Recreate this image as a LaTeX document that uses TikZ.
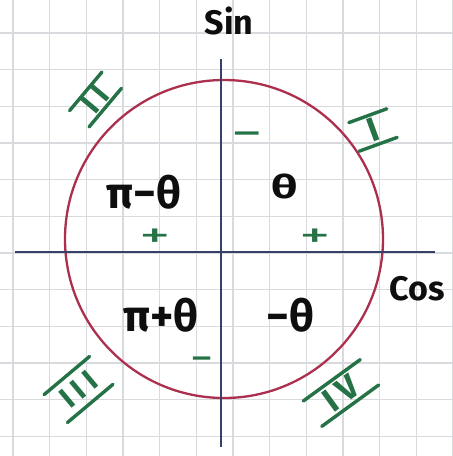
\documentclass[tikz,border=0pt]{standalone}
\usepackage{fontspec}
\setmainfont{Fira Sans}
\definecolor{gridc}{RGB}{216,218,222}
\definecolor{axisc}{RGB}{55,64,104}
\definecolor{circc}{RGB}{172,48,78}
\definecolor{numc}{RGB}{36,114,70}
\definecolor{inkc}{RGB}{14,14,14}
\tikzset{
  lbl/.style={text=inkc, font=\bfseries\fontsize{44}{44}\selectfont, inner sep=0pt},
  axislbl/.style={text=inkc, font=\bfseries\fontsize{34}{34}\selectfont, inner sep=0pt},
  sgn/.style={text=numc, font=\fontsize{42}{42}\selectfont, inner sep=0pt},
  numeral/.style={text=numc, font=\bfseries\fontsize{30}{30}\selectfont, inner sep=0pt, transform shape},
  bar/.style={draw=numc, line width=3.4pt, line cap=round},
  gridline/.style={draw=gridc, line width=1.3pt},
  axisline/.style={draw=axisc, line width=2.6pt},
  unitcirc/.style={draw=circc, line width=2.3pt},
}
\begin{document}
\begin{tikzpicture}[x=1pt,y=-1pt]
\fill[white] (0,0) rectangle (453,456);
\useasboundingbox (0,0) rectangle (453,456);
% grid
\foreach \i in {0,...,12} \draw[gridline] ({13+36.67*\i},0) -- ({13+36.67*\i},456);
\foreach \j in {0,...,11} \draw[gridline] (0,{33+36.67*\j}) -- (453,{33+36.67*\j});
% circle
\coordinate (C) at (224,239);
\draw[unitcirc] (C) circle[radius=159];
% axes
\coordinate (vt) at (221,59);
\coordinate (vb) at (221,447);
\coordinate (hl) at (15,252);
\coordinate (hr) at (435,252);
\draw[axisline] (vt) -- (vb);
\draw[axisline] (hl) -- (hr);
% axis labels
\node[axislbl] (sinl) at (229,21) {Sin};
\node[axislbl] (cosl) at (417,289) {Cos};
% quadrant angles
\node[lbl] (a2) at (144,192) {π−θ};
\node[lbl, font=\bfseries\fontsize{36}{36}\selectfont] (a1) at (285,186) {\scalebox{1.3}[0.9]{θ}};
\node[lbl] (a3) at (161,315) {π+θ};
\node[lbl] (a4) at (290,315) {−θ};
% signs
\node[sgn] (p2) at (155,238) {\scalebox{1.5}[0.85]{+}};
\node[sgn] (p1) at (315,238) {\scalebox{1.5}[0.85]{+}};
\node[sgn] (m1) at (247,140) {\scalebox{1.5}[1]{−}};
\node[sgn] (m3) at (202,365) {\scalebox{1.1}[1]{−}};
% roman numerals
\begin{scope}[shift={(373,130)}, rotate=20]
  \node[numeral, font=\bfseries\fontsize{34}{34}\selectfont, minimum width=40pt, minimum height=30pt] (n1) at (0,0) {I};
  \draw[bar] (n1.north west) -- (n1.north east) (n1.south west) -- (n1.south east);
\end{scope}
\begin{scope}[shift={(95.5,99.5)}, rotate=50]
  \node[numeral, minimum width=50pt, minimum height=25pt] (n2) at (0,0) {I\kern6pt I};
  \draw[bar] (n2.north west) -- (n2.north east) (n2.south west) -- (n2.south east);
\end{scope}
\begin{scope}[shift={(78.5,389.5)}, rotate=40]
  \node[numeral, minimum width=59pt, minimum height=36pt] (n3) at (0,0) {I\kern6pt I\kern6pt I};
  \draw[bar] (n3.north west) -- (n3.north east) (n3.south west) -- (n3.south east);
\end{scope}
\begin{scope}[shift={(341,393)}, rotate=36]
  \node[numeral, font=\bfseries\fontsize{34}{34}\selectfont, minimum width=70pt, minimum height=31pt] (n4) at (0,0) {I\kern7pt V};
  \draw[bar] (n4.north west) -- (n4.north east) (n4.south west) -- (n4.south east);
\end{scope}
\end{tikzpicture}
\end{document}
